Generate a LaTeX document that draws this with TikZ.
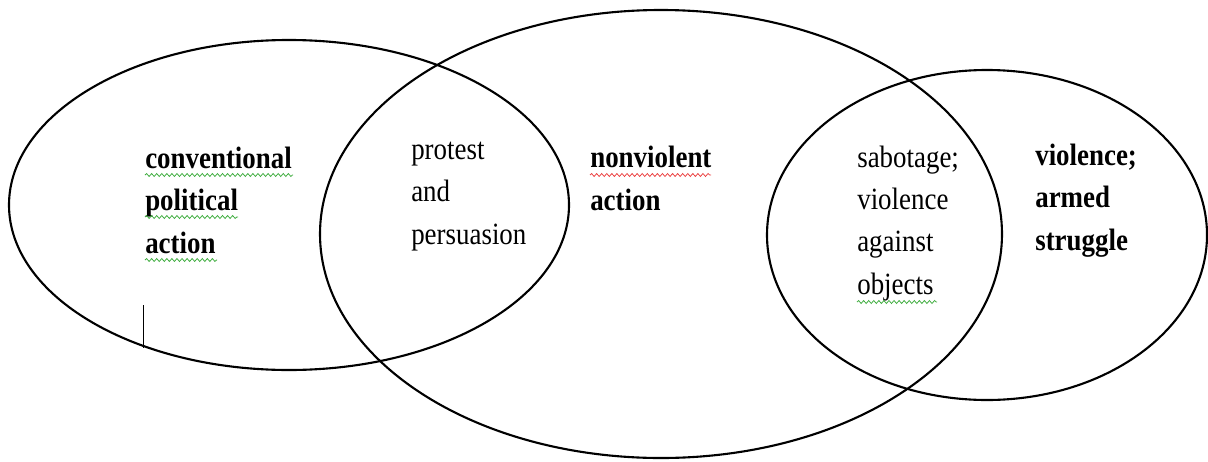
\documentclass[tikz,border=0pt]{standalone}
\usepackage{fontspec}
\setmainfont[FakeStretch=0.87]{Liberation Serif}
\usetikzlibrary{decorations.pathmorphing}
\definecolor{spellg}{rgb}{0.25,0.68,0.25}
\definecolor{spellr}{rgb}{0.92,0.25,0.25}

\tikzset{
  ring/.style={line width=1.5pt},
  txt/.style={anchor=base west, inner sep=0pt, align=left, font=\fontsize{22}{30}\selectfont},
  btxt/.style={txt, font=\fontsize{22}{30}\selectfont\bfseries},
  squig/.style={decorate, decoration={snake, amplitude=1.05pt, segment length=3.6pt}, line width=0.55pt}
}

\begin{document}
\begin{tikzpicture}[x=0.025cm,y=0.025cm]

    \useasboundingbox (0,0) rectangle (1208,-461);

    % the three sets
    \draw[ring] (289,-205) ellipse [x radius=280, y radius=165];
    \draw[ring] (661,-234) ellipse [x radius=341, y radius=224];
    \draw[ring] (987,-235) ellipse [x radius=220, y radius=165];

    % texts, placed by the baseline of their last line
    \node[btxt] (conv) at (145,-253) {conventional\\political\\action};
    \node[txt]  (prot) at (411,-244) {protest\\and\\persuasion};
    \node[btxt] (nonv) at (590,-210) {nonviolent\\action};
    \node[txt]  (sabo) at (857,-294) {sabotage;\\violence\\against\\objects};
    \node[btxt] (viol) at (1035,-250) {violence;\\armed\\struggle};

    % spelling marks
    \draw[squig,spellg] (145,-175) -- (293,-175);
    \draw[squig,spellg] (145,-217) -- (238,-217);
    \draw[squig,spellg] (145,-260) -- (217,-260);
    \draw[squig,spellr] (590,-175) -- (711,-175);
    \draw[squig,spellg] (857,-302) -- (937,-302);

    % cursor
    \draw[line width=0.6pt] (143,-305) -- (143,-348);

  \end{tikzpicture}
\end{document}
